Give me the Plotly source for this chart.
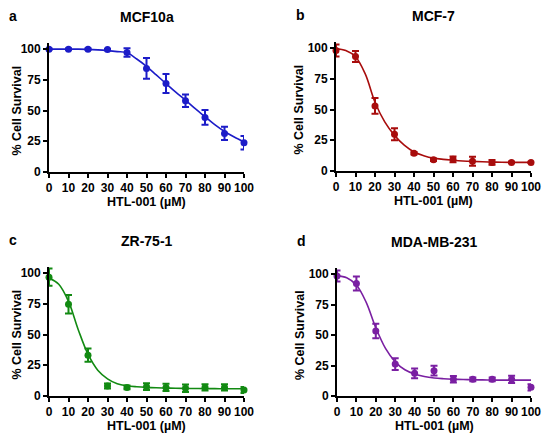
import plotly.graph_objects as go

# the page body adds 8px around the figure, so the figure is drawn 16px smaller
PAGE_PAD = 8
W, H = 550 - 2 * PAGE_PAD, 441 - 2 * PAGE_PAD

# concentrations (uM)
dose = [0, 10, 20, 30, 40, 50, 60, 70, 80, 90, 100]
fit_x = [0, 5, 10, 15, 20, 25, 30, 35, 40, 45, 50, 55, 60, 65, 70, 75, 80, 85, 90, 95, 100]

# panel a - MCF10a
mcf10a_y = [100, 100, 100, 99.7, 97.3, 84.3, 72.1, 58, 44.4, 31.4, 23.8]
mcf10a_err = [0.5, 0.5, 0.5, 0.5, 3.4, 8.4, 7.7, 5, 6, 5.4, 5.5]
mcf10a_fit = [100, 100, 100, 100, 99.8, 99.4, 98.8, 98, 97, 92, 86, 79, 72, 65,
              58.5, 51.5, 45, 38.5, 33, 28.5, 24.5]

# panel b - MCF-7
mcf7_y = [98.1, 93.2, 53, 29.9, 14.4, 9.2, 9.5, 7.9, 7, 7, 7]
mcf7_err = [4.9, 4.5, 6.5, 4.8, 1, 1, 2.4, 3.7, 2, 0.5, 0.5]
mcf7_fit = [99.5, 98, 93, 79, 56, 40, 29, 21, 15.5, 12.5, 10.5, 9.5, 8.8, 8.2,
            7.8, 7.5, 7.3, 7.1, 7, 7, 7]

# panel c - ZR-75-1
zr751_y = [96.7, 74.7, 33.2, 8.2, 7, 7.6, 7, 6.3, 7, 7, 4.9]
zr751_err = [7, 7.5, 5.4, 2, 1.5, 2.7, 3, 3, 2.5, 2.5, 2.5]
zr751_fit = [96, 91, 77, 54, 34, 21, 14, 10, 8.3, 7.5, 7, 6.7, 6.5, 6.3,
             6.2, 6.1, 6, 6, 5.9, 5.9, 5.9]

# panel d - MDA-MB-231
mda231_y = [98.4, 92.3, 53.3, 26.2, 18.6, 20.8, 13.7, 13.7, 13.7, 13.7, 7.1]
mda231_err = [4.5, 5.7, 6, 4.8, 4, 4, 2.7, 1.5, 1.5, 3, 2.5]
mda231_fit = [98.5, 97, 91, 77, 56, 39, 28, 21.5, 18, 16, 14.8, 14.2, 13.8, 13.5,
              13.3, 13.2, 13.1, 13, 13, 13, 13]

x_ticks = [0, 10, 20, 30, 40, 50, 60, 70, 80, 90, 100]
y_ticks = [0, 25, 50, 75, 100]

FONT = 'Liberation Sans, Arial, sans-serif'

# letter, title, y, err, fit, colour, x-domain px, y-domain px (top, bottom)
panels = [
    ('a', 'MCF10a', mcf10a_y, mcf10a_err, mcf10a_fit, '#1c1cc8', (49, 244), (43, 172)),
    ('b', 'MCF-7', mcf7_y, mcf7_err, mcf7_fit, '#a80c0c', (336, 531), (42, 171)),
    ('c', 'ZR-75-1', zr751_y, zr751_err, zr751_fit, '#128a12', (49, 244), (267, 396)),
    ('d', 'MDA-MB-231', mda231_y, mda231_err, mda231_fit, '#7a1fa2', (337, 531), (268, 396)),
]


def px(x, y):
    """screen pixel position -> paper coords"""
    return (x - PAGE_PAD) / W, 1 - (y - PAGE_PAD) / H


def label(x, y, text, size, angle=0):
    return dict(x=x, y=y, xref='paper', yref='paper', text=text, showarrow=False,
                textangle=angle, xanchor='center', yanchor='middle',
                font=dict(family=FONT, size=size, color='black', weight='bold'))


fig = go.Figure()
annotations = []

for i, (letter, title, ys, errs, fit, col, xd, yd) in enumerate(panels):
    n = '' if i == 0 else str(i + 1)
    xa, ya = 'x' + n, 'y' + n

    fig.add_trace(go.Scatter(
        x=fit_x, y=fit, mode='lines', line=dict(color=col, width=1.6, shape='spline'),
        xaxis=xa, yaxis=ya, showlegend=False, hoverinfo='skip', cliponaxis=False
    ))
    fig.add_trace(go.Scatter(
        x=dose, y=ys, mode='markers',
        marker=dict(color=col, size=7),
        error_y=dict(type='data', array=errs, color=col, thickness=2, width=3.5),
        xaxis=xa, yaxis=ya, showlegend=False, cliponaxis=False
    ))

    x0, x1 = px(xd[0], 0)[0], px(xd[1], 0)[0]
    y1, y0 = px(0, yd[0])[1], px(0, yd[1])[1]

    axis_common = dict(
        showgrid=False, zeroline=False, showline=True, linecolor='black', linewidth=1.8,
        ticks='outside', ticklen=4, tickwidth=1.8, tickcolor='black', automargin=False,
        tickfont=dict(family=FONT, size=12, color='black', weight='bold'),
    )
    fig.update_layout(**{
        'xaxis' + n: dict(domain=[x0, x1], range=[0, 100], anchor=ya, tickangle=0,
                          tickvals=x_ticks, **axis_common),
        'yaxis' + n: dict(domain=[y0, y1], range=[0, 105], anchor=xa,
                          tickvals=y_ticks, ticklabelstandoff=0, **axis_common),
    })

    cx = (xd[0] + xd[1]) / 2
    top = yd[0]
    bottom = yd[1]
    annotations.append(label(*px(xd[0] - 36, top - 27), letter, 14))
    annotations.append(label(*px(cx, top - 26), title, 14))
    annotations.append(label(*px(cx, bottom + 30), 'HTL-001 (µM)', 12.5))
    annotations.append(label(*px(max(xd[0] - 37, 16), (top + bottom) / 2 + 3),
                             '% Cell Survival', 12.5, -90))

fig.update_layout(
    width=W, height=H,
    margin=dict(l=0, r=0, t=0, b=0),
    paper_bgcolor='white', plot_bgcolor='white',
    annotations=annotations,
)

fig.write_html('out.html')
